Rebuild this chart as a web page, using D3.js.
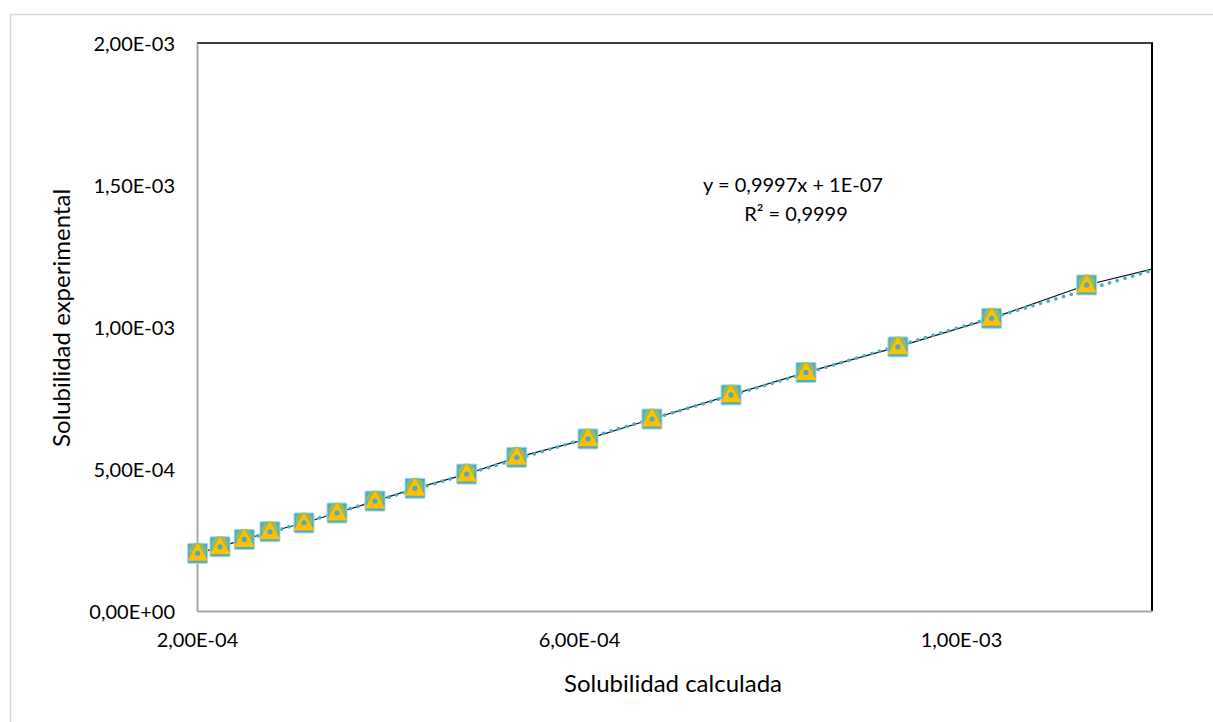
<!DOCTYPE html>
<html>
<head>
<meta charset="utf-8">
<script src="https://cdn.jsdelivr.net/npm/d3@7"></script>
<style>
  html, body { margin: 0; padding: 0; background: #ffffff; }
  svg { display: block; font-family: Lato, "Open Sans", sans-serif; }
</style>
</head>
<body>
<svg id="chart" width="1213" height="722"></svg>
<script>
// Solubilidad calculada (x) y experimental (y)
const calculada = [2.007e-4, 2.241e-4, 2.495e-4, 2.764e-4, 3.120e-4, 3.466e-4, 3.864e-4, 4.283e-4,
  4.824e-4, 5.348e-4, 6.094e-4, 6.764e-4, 7.592e-4, 8.377e-4, 9.340e-4, 1.0321e-3, 1.1316e-3];
const experimental = [2.03e-4, 2.26e-4, 2.52e-4, 2.79e-4, 3.10e-4, 3.45e-4, 3.87e-4, 4.32e-4,
  4.82e-4, 5.41e-4, 6.06e-4, 6.76e-4, 7.61e-4, 8.40e-4, 9.30e-4, 1.0306e-3, 1.148e-3];

// Series de referencia (línea negra), continúa hasta el borde del gráfico
const lineaX = calculada.concat([1.2e-3]);
const lineaY = experimental.concat([1.204e-3]);

// Línea de tendencia lineal
const pendiente = 0.9997;
const intercepto = 1e-7;
const tendenciaX = [2.0e-4, 1.2e-3];

const xTicks = [2e-4, 6e-4, 1e-3];
const yTicks = [0, 5e-4, 1e-3, 1.5e-3, 2e-3];

const fmt = v => {
  if (v === 0) return "0,00E+00";
  return v.toExponential(2).replace(".", ",").replace(/e([+-])(\d)$/, "E$10$2").replace(/e/, "E");
};

const svg = d3.select("#chart");
const margin = { left: 197, right: 1152, top: 43, bottom: 611 };

const x = d3.scaleLinear().domain([2e-4, 1.2e-3]).range([margin.left, margin.right]);
const y = d3.scaleLinear().domain([0, 2e-3]).range([margin.bottom, margin.top]);

// Borde del área del gráfico
svg.append("rect")
  .attr("x", 10.5).attr("y", 14.5)
  .attr("width", 1220).attr("height", 720)
  .attr("fill", "#fff").attr("stroke", "#d9d9d9").attr("stroke-width", 1.5);

// Marco del área de trazado: arriba y derecha en negro
svg.append("line")
  .attr("x1", margin.left).attr("x2", margin.right + 1)
  .attr("y1", margin.top).attr("y2", margin.top)
  .attr("stroke", "#000").attr("stroke-width", 1.5);
svg.append("line")
  .attr("x1", margin.right).attr("x2", margin.right)
  .attr("y1", margin.top).attr("y2", margin.bottom)
  .attr("stroke", "#000").attr("stroke-width", 2);

// Ejes (sin marcas de graduación)
const xAxis = d3.axisBottom(x).tickValues(xTicks).tickFormat(fmt).tickSize(0).tickPadding(22);
const yAxis = d3.axisLeft(y).tickValues(yTicks).tickFormat(fmt).tickSize(0).tickPadding(22);

const gx = svg.append("g").attr("transform", `translate(0,${margin.bottom})`).call(xAxis);
const gy = svg.append("g").attr("transform", `translate(${margin.left},0)`).call(yAxis);
[gx, gy].forEach(g => {
  g.select(".domain").attr("stroke", "#a6a6a6").attr("stroke-width", 2);
  g.selectAll("text").attr("font-size", 20).attr("fill", "#000")
    .attr("font-family", "Lato, 'Open Sans', sans-serif");
});
gy.selectAll("text").attr("dy", "0.36em");
gx.selectAll("text").attr("dy", "0.68em");

// Recorte al área de trazado
svg.append("clipPath").attr("id", "plot-clip")
  .append("rect")
  .attr("x", margin.left).attr("y", margin.top)
  .attr("width", margin.right - margin.left).attr("height", margin.bottom - margin.top);

const plot = svg.append("g").attr("clip-path", "url(#plot-clip)");

// Línea negra que une los puntos
plot.append("path")
  .datum(lineaX.map((v, i) => [v, lineaY[i]]))
  .attr("d", d3.line().x(d => x(d[0])).y(d => y(d[1])))
  .attr("fill", "none").attr("stroke", "#111").attr("stroke-width", 1.2);

// Línea de tendencia punteada
plot.append("path")
  .datum(tendenciaX.map(v => [v, pendiente * v + intercepto]))
  .attr("d", d3.line().x(d => x(d[0])).y(d => y(d[1])))
  .attr("fill", "none").attr("stroke", "#4bacc6").attr("stroke-width", 3.6)
  .attr("stroke-linecap", "round").attr("stroke-dasharray", "0.1 7.9");

// Marcadores superpuestos de las series
const pts = calculada.map((v, i) => ({ cx: x(v), cy: y(experimental[i]) }));
const mk = svg.append("g");

mk.selectAll("rect.sq").data(pts).join("rect").attr("class", "sq")
  .attr("x", d => d.cx - 10).attr("y", d => d.cy - 10)
  .attr("width", 20).attr("height", 20).attr("rx", 1)
  .attr("fill", "#4bacc6").attr("stroke", "#a5d8e6").attr("stroke-width", 1);

mk.selectAll("circle.ci").data(pts).join("circle").attr("class", "ci")
  .attr("cx", d => d.cx).attr("cy", d => d.cy - 2)
  .attr("r", 8.5).attr("fill", "#9bbb59").attr("opacity", 0.9);

const tri = d3.symbol().type(d3.symbolTriangle).size(185);
mk.selectAll("path.tr").data(pts).join("path").attr("class", "tr")
  .attr("transform", d => `translate(${d.cx},${d.cy + 1.5})`)
  .attr("d", tri).attr("fill", "#ffc000");

mk.selectAll("circle.dt").data(pts).join("circle").attr("class", "dt")
  .attr("cx", d => d.cx).attr("cy", d => d.cy)
  .attr("r", 2.6).attr("fill", "#4bacc6");

// Ecuación de la tendencia
const eq = svg.append("g").attr("font-size", 20).attr("fill", "#000").attr("text-anchor", "middle");
const intercStr = intercepto.toExponential(0).toUpperCase().replace(/E([+-])(\d)$/, "E$10$2");
eq.append("text").attr("x", 793).attr("y", 192)
  .text(`y = ${pendiente.toString().replace(".", ",")}x + ${intercStr}`);
eq.append("text").attr("x", 796).attr("y", 221).text("R² = 0,9999");

// Títulos de los ejes
svg.append("text")
  .attr("x", 673).attr("y", 692).attr("text-anchor", "middle")
  .attr("font-size", 24).attr("fill", "#000")
  .text("Solubilidad calculada");
svg.append("text")
  .attr("transform", "translate(70,318) rotate(-90)")
  .attr("text-anchor", "middle")
  .attr("font-size", 24).attr("fill", "#000")
  .text("Solubilidad experimental");
</script>
</body>
</html>
